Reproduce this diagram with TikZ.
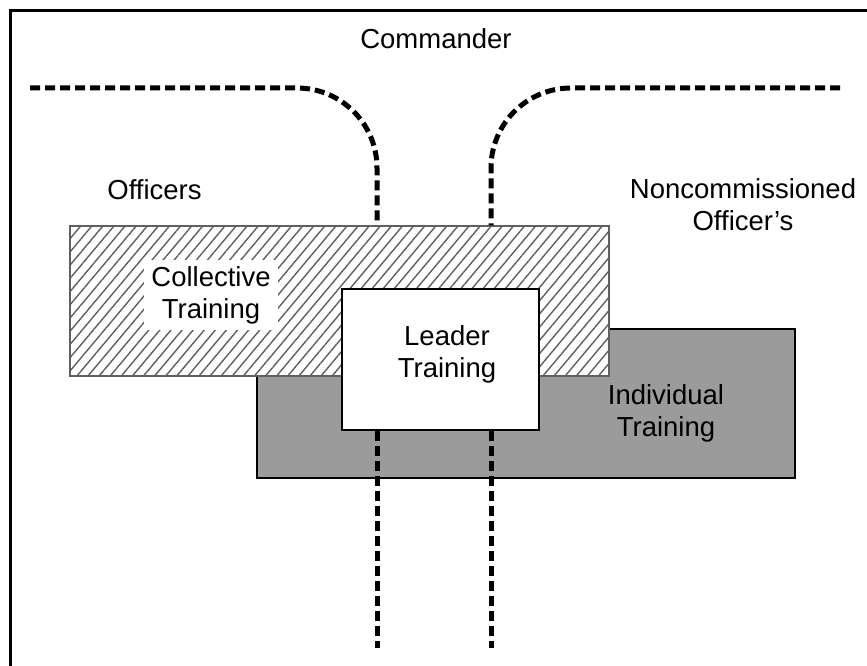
\documentclass[tikz,border=0pt]{standalone}
\usepackage{fontspec}
\setmainfont{Liberation Sans}
\usetikzlibrary{patterns.meta}
\definecolor{indivgray}{HTML}{9B9B9B}
\definecolor{hatchgray}{HTML}{606060}

\begin{document}
\begin{tikzpicture}[x=1pt, y=-1pt,
    txt/.style={font=\fontsize{27.5}{32}\selectfont, align=center, inner sep=0pt},
    dashline/.style={line width=5pt, dash pattern=on 10pt off 5pt},
    trainbox/.style={draw, line width=2.5pt, inner sep=0pt}]

    \useasboundingbox (0,0) rectangle (867,666);
    \draw[line width=3pt] (10,666) -- (10,11) -- (867,11);

    % the three training areas
    \node[trainbox, fill=indivgray, minimum width=538pt, minimum height=149pt] (indiv) at (526,403.5) {};
    \node[trainbox, draw=hatchgray, line width=1.5pt, preaction={fill=white},
          pattern={Lines[angle=50, distance=8.5pt, line width=1.4pt]}, pattern color=hatchgray,
          minimum width=539pt, minimum height=150pt] (coll) at (339.5,301) {};
    \node[txt, fill=white, inner xsep=7pt, inner ysep=6pt] (colltxt) at (211,295) {Collective\\Training};
    \node[txt] (indivtxt) at (666,413.5) {Individual\\Training};

    \coordinate (tl) at (30,88);
    \coordinate (tr) at (840,88);
    \coordinate (bl) at (377,648);
    \coordinate (br) at (491,648);

    \draw[dashline, rounded corners=80pt] (tl) -| (bl |- coll.north);
    \draw[dashline, rounded corners=80pt] (tr) -| (br |- coll.north);

    \node[trainbox, fill=white, minimum width=197pt, minimum height=141pt] (leader) at (440.5,359.5) {};
    \node[txt] (leadertxt) at (447,354) {Leader\\Training};

    \draw[dashline] (bl |- leader.south) -- (bl);
    \draw[dashline] (br |- leader.south) -- (br);

    % who trains
    \node[txt, anchor=base] (cmd) at (436,49) {Commander};
    \node[txt, anchor=base] (off) at (154.5,199) {Officers};
    \node[txt] (nco) at (743,204.5) {Noncommissioned\\Officer’s};

\end{tikzpicture}
\end{document}
